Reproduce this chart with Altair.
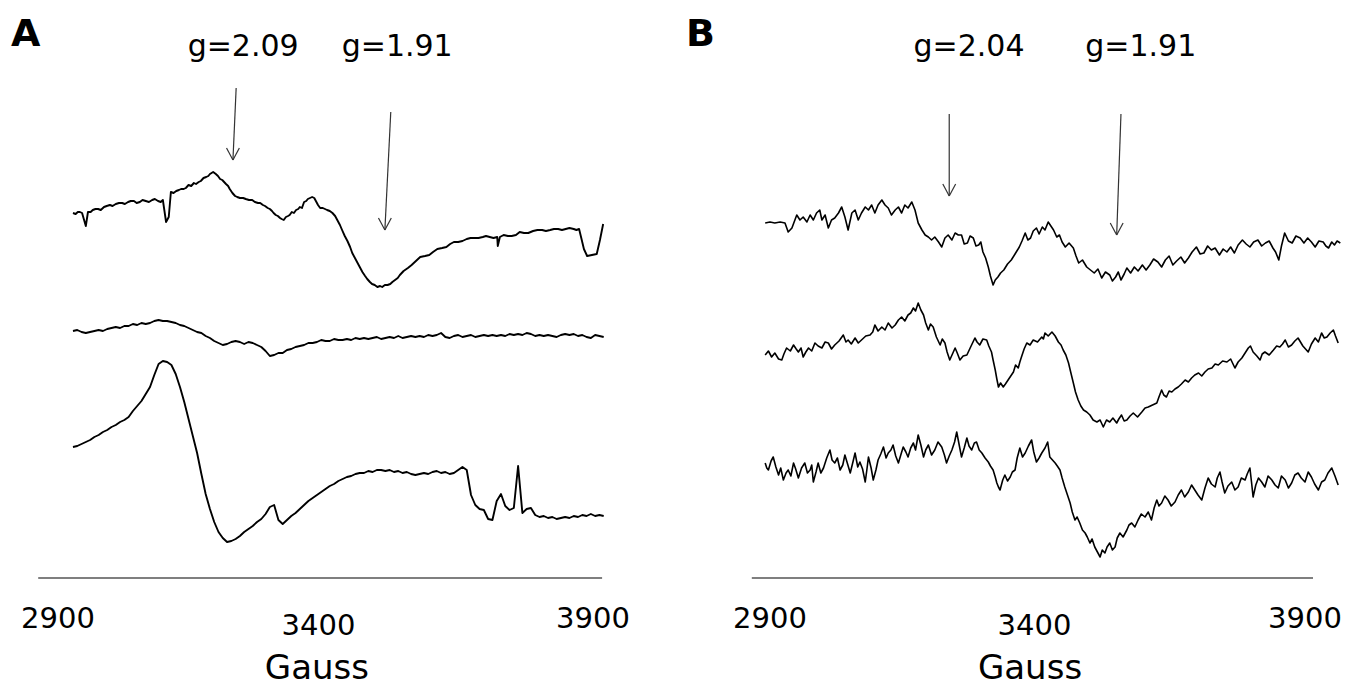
import altair as alt
import pandas as pd

# ---------------- Panel A : (field in Gauss, intensity in arbitrary units) ----------------
A1 = [(2928,17),(2933,16),(2937,18),(2941,18),(2945,17),(2952,4),(2956,18),(2961,18),(2965,20),(2970,21),
      (2975,21),(2980,20),(2986,23),(2991,24),(2997,25),(3002,24),(3008,26),(3014,27),(3020,27),(3025,26),
      (3031,28),(3036,29),(3042,29),(3047,27),(3053,28),(3058,30),(3064,29),(3070,28),(3076,30),(3081,31),
      (3087,29),(3092,28),(3096,30),(3102,8),(3107,13),(3111,38),(3116,37),(3121,39),(3126,40),(3130,41),
      (3135,41),(3139,42),(3144,45),(3149,44),(3154,47),(3158,46),(3163,48),(3167,49),(3172,52),(3177,53),
      (3181,54),(3184,56),(3190,58),(3195,56),(3199,54),(3203,51),(3207,50),(3214,46),(3218,44),(3221,41),
      (3226,37),(3231,34),(3235,33),(3240,32),(3246,32),(3251,31),(3257,30),(3263,30),(3268,28),(3274,27),
      (3278,27),(3283,25),(3287,24),(3292,22),(3296,21),(3300,19),(3303,17),(3307,15),(3311,14),(3315,12),
      (3318,11),(3322,10),(3326,13),(3330,14),(3333,15),(3337,18),(3341,17),(3345,20),(3349,21),(3352,23),
      (3356,22),(3360,28),(3364,29),(3367,31),(3371,32),(3375,33),(3379,32),(3382,29),(3386,25),(3390,22),
      (3395,22),(3399,21),(3403,20),(3408,19),(3413,17),(3418,14),(3422,10),(3427,5),(3431,0),(3436,-6),
      (3441,-11),(3446,-17),(3450,-23),(3455,-28),(3460,-33),(3464,-37),(3469,-42),(3474,-46),(3478,-49),(3483,-52),
      (3487,-54),(3492,-55),(3497,-57),(3502,-56),(3506,-57),(3511,-55),(3516,-55),(3521,-54),(3525,-52),(3530,-50),
      (3535,-48),(3539,-45),(3546,-41),(3554,-38),(3561,-35),(3569,-31),(3577,-27),(3586,-26),(3594,-25),(3601,-22),
      (3609,-19),(3618,-18),(3626,-17),(3633,-14),(3640,-12),(3648,-12),(3656,-11),(3664,-9),(3671,-8),(3679,-8),
      (3686,-8),(3694,-7),(3700,-6),(3707,-7),(3714,-8),(3721,-7),(3722,-16),(3726,-7),(3733,-5),(3741,-6),
      (3748,-6),(3756,-5),(3763,-2),(3771,-3),(3779,-3),(3788,-1),(3796,0),(3805,0),(3812,-1),(3820,0),
      (3827,1),(3835,1),(3842,0),(3849,1),(3856,2),(3864,1),(3869,0),(3874,1),(3879,-10),(3883,-19),
      (3889,-26),(3898,-25),(3907,-24),(3913,-10),(3919,6)]

# field sweep shared by the middle and bottom spectra of panel A (8 G steps)
A_SWEEP = list(range(2928, 3921, 8))
A2_INT = [7,8,6,5,6,7,8,7,9,10,11,10,12,12,14,13,15,14,15,17,
          18,17,17,16,15,13,12,10,8,6,5,2,0,-3,-5,-7,-6,-4,-3,-4,
          -6,-4,-5,-7,-9,-13,-18,-17,-15,-15,-12,-11,-9,-8,-7,-5,-5,-4,-2,-3,
          -3,-1,-2,-2,-1,-2,0,-1,0,-1,0,1,-1,0,1,0,2,0,1,2,
          1,2,1,3,2,3,5,1,0,2,3,1,2,3,1,2,3,2,3,2,
          3,2,4,3,4,3,5,4,2,3,2,3,2,1,3,4,3,4,2,3,
          1,0,3,2,1]
A3_INT = [43,44,46,48,50,53,55,58,60,63,65,68,70,73,79,84,89,96,103,115,
          126,129,128,125,116,103,88,71,54,37,16,-4,-19,-32,-42,-48,-52,-51,-49,-46,
          -42,-39,-36,-32,-29,-24,-17,-15,-30,-34,-30,-26,-23,-19,-15,-11,-8,-5,-2,1,
          4,6,9,11,13,14,16,17,17,19,18,20,20,19,20,18,19,17,18,16,
          15,16,17,16,18,19,17,18,16,17,20,23,20,-5,-15,-19,-20,-29,-30,-11,
          -4,-16,-20,-18,24,-23,-19,-18,-25,-27,-26,-28,-27,-29,-28,-27,-28,-26,-27,-25,
          -26,-24,-26,-25,-26]
A_OFFSETS = [-230, -338, -490]

# ---------------- Panel B ----------------
B1 = [(2891,17),(2900,18),(2909,17),(2919,18),(2928,17),(2934,8),(2941,12),(2950,25),(2956,20),(2962,23),
      (2969,18),(2975,25),(2981,20),(2987,27),(2993,30),(2997,20),(3003,25),(3009,12),(3015,20),(3021,22),
      (3028,27),(3034,33),(3040,23),(3046,10),(3053,27),(3059,30),(3065,20),(3071,27),(3078,33),(3084,30),
      (3090,35),(3096,27),(3102,35),(3109,40),(3115,35),(3121,32),(3127,25),(3134,30),(3140,33),(3146,27),
      (3152,35),(3158,32),(3165,38),(3171,30),(3177,17),(3184,10),(3190,5),(3196,3),(3202,0),(3208,3),
      (3215,-2),(3221,-7),(3227,2),(3233,5),(3240,0),(3246,7),(3252,5),(3258,5),(3263,-4),(3269,-3),
      (3274,4),(3280,2),(3285,-6),(3290,-5),(3294,-2),(3298,-12),(3303,-18),(3308,-27),(3312,-36),(3317,-45),
      (3321,-40),(3326,-37),(3331,-33),(3337,-30),(3344,-24),(3351,-20),(3358,-14),(3366,-7),(3371,-1),(3377,7),
      (3382,0),(3387,2),(3392,9),(3398,12),(3403,6),(3409,13),(3414,10),(3420,18),(3425,14),(3430,10),
      (3436,3),(3441,5),(3446,-2),(3452,-7),(3459,-3),(3467,-8),(3472,-16),(3477,-23),(3484,-20),(3492,-27),
      (3499,-30),(3506,-33),(3513,-29),(3520,-38),(3527,-32),(3535,-35),(3540,-41),(3546,-37),(3551,-32),(3556,-40),
      (3562,-34),(3567,-28),(3574,-33),(3581,-27),(3588,-31),(3596,-25),(3603,-30),(3610,-25),(3617,-19),(3625,-22),
      (3632,-27),(3639,-20),(3646,-16),(3653,-25),(3660,-21),(3668,-17),(3675,-23),(3682,-18),(3689,-12),(3697,-7),
      (3704,-14),(3711,-13),(3718,-6),(3725,-10),(3732,-8),(3740,-15),(3747,-9),(3754,-12),(3761,-7),(3768,-13),
      (3775,-5),(3783,0),(3790,-4),(3797,-7),(3804,-2),(3812,0),(3819,-6),(3826,-3),(3833,-1),(3840,-8),
      (3845,-12),(3851,-20),(3856,-6),(3862,7),(3869,-1),(3876,-3),(3883,4),(3891,2),(3898,-3),(3905,2),
      (3912,-2),(3919,-7),(3926,-1),(3934,-2),(3939,-6),(3944,-8),(3950,-2),(3955,-5),(3960,-1),(3966,-3)]

B2 = [(2891,-5),(2897,-1),(2903,-7),(2909,-3),(2916,-9),(2922,-10),(2926,-4),(2931,2),(2938,-1),(2944,5),
      (2949,1),(2953,-2),(2958,2),(2962,-7),(2967,-2),(2972,2),(2978,-1),(2984,7),(2990,4),(2997,2),
      (3003,8),(3009,7),(3015,1),(3021,5),(3029,9),(3037,15),(3042,8),(3046,10),(3052,6),(3059,12),
      (3065,7),(3071,10),(3079,14),(3087,15),(3092,18),(3096,25),(3102,19),(3109,23),(3115,20),(3121,27),
      (3128,22),(3134,25),(3140,30),(3146,33),(3152,29),(3158,35),(3163,37),(3168,42),(3172,39),(3177,47),
      (3182,40),(3187,35),(3191,27),(3196,20),(3200,26),(3205,23),(3211,13),(3218,5),(3222,11),(3227,7),
      (3231,-2),(3236,-10),(3241,-4),(3246,2),(3250,-3),(3255,-10),(3261,-6),(3268,-5),(3275,3),(3283,12),
      (3287,8),(3292,5),(3298,11),(3305,10),(3309,4),(3314,-2),(3317,-10),(3321,-20),(3324,-29),(3327,-37),
      (3331,-33),(3336,-37),(3340,-34),(3345,-30),(3350,-26),(3355,-22),(3359,-15),(3364,-18),(3367,-12),(3370,-7),
      (3375,1),(3380,7),(3386,5),(3392,10),(3400,8),(3408,13),(3411,11),(3414,17),(3420,14),(3427,18),
      (3433,14),(3439,8),(3444,5),(3448,0),(3453,-5),(3458,-13),(3462,-22),(3467,-33),(3471,-42),(3476,-50),
      (3481,-56),(3486,-60),(3492,-62),(3498,-65),(3504,-70),(3511,-72),(3517,-70),(3523,-77),(3529,-70),(3535,-72),
      (3541,-68),(3548,-73),(3552,-69),(3557,-65),(3562,-71),(3567,-70),(3573,-66),(3579,-63),(3587,-67),(3595,-62),
      (3601,-58),(3607,-57),(3615,-55),(3623,-53),(3627,-47),(3632,-40),(3636,-45),(3641,-47),(3646,-41),(3651,-42),
      (3657,-39),(3663,-37),(3669,-34),(3676,-30),(3682,-32),(3688,-28),(3694,-25),(3701,-23),(3707,-26),(3713,-22),
      (3719,-19),(3726,-18),(3732,-14),(3738,-15),(3746,-11),(3754,-12),(3761,-9),(3769,-18),(3775,-12),(3782,-8),
      (3788,-3),(3794,2),(3798,4),(3803,-2),(3810,-6),(3816,-10),(3820,-4),(3825,-2),(3833,-5),(3841,0),
      (3847,4),(3853,3),(3858,6),(3863,10),(3869,3),(3875,5),(3881,9),(3887,12),(3896,4),(3906,-2),
      (3912,6),(3919,12),(3925,8),(3931,17),(3936,12),(3941,13),(3947,17),(3953,20),(3957,14),(3962,7)]

B3 = [(2891,7),(2894,2),(2897,0),(2902,9),(2906,13),(2911,3),(2916,-5),(2920,2),(2925,-10),(2930,-3),
      (2934,0),(2939,-6),(2944,7),(2948,1),(2953,-8),(2959,2),(2965,7),(2970,-3),(2975,0),(2978,5),
      (2981,-12),(2986,-2),(2990,7),(2995,-3),(3000,2),(3006,12),(3012,20),(3016,10),(3021,7),(3026,12),
      (3031,0),(3036,5),(3040,15),(3045,6),(3050,-3),(3055,8),(3059,17),(3064,3),(3068,8),(3073,1),
      (3078,-12),(3081,0),(3084,13),(3089,2),(3093,-10),(3098,0),(3102,10),(3107,16),(3112,23),(3117,12),
      (3121,17),(3126,20),(3130,25),(3135,14),(3140,7),(3145,16),(3149,23),(3154,18),(3158,13),(3163,22),
      (3168,27),(3172,20),(3177,35),(3182,25),(3187,13),(3191,20),(3196,25),(3202,15),(3208,20),(3214,28),
      (3221,23),(3226,15),(3230,7),(3235,14),(3240,20),(3245,28),(3249,38),(3254,24),(3258,13),(3263,22),
      (3268,32),(3272,24),(3277,20),(3282,27),(3286,28),(3291,20),(3296,17),(3302,12),(3308,8),(3312,4),
      (3317,0),(3321,-7),(3324,-13),(3327,-17),(3330,-20),(3335,-10),(3339,-5),(3344,-11),(3349,-7),(3353,-2),
      (3358,0),(3362,12),(3367,22),(3372,13),(3377,17),(3383,24),(3389,30),(3393,18),(3398,8),(3403,12),
      (3408,17),(3414,22),(3419,28),(3423,13),(3428,10),(3433,7),(3437,4),(3442,0),(3446,-8),(3451,-17),
      (3456,-25),(3461,-33),(3465,-42),(3470,-50),(3474,-47),(3479,-53),(3484,-60),(3489,-63),(3493,-67),(3498,-73),
      (3502,-69),(3507,-77),(3512,-82),(3517,-87),(3521,-80),(3526,-83),(3530,-77),(3535,-73),(3540,-80),(3545,-77),
      (3549,-68),(3554,-63),(3560,-67),(3567,-60),(3571,-55),(3576,-53),(3582,-57),(3588,-50),(3594,-44),(3601,-47),
      (3607,-42),(3613,-50),(3618,-38),(3623,-30),(3627,-36),(3632,-33),(3638,-26),(3644,-30),(3650,-36),(3657,-32),
      (3663,-25),(3669,-20),(3675,-27),(3682,-22),(3688,-15),(3694,-20),(3700,-25),(3707,-30),(3713,-18),(3719,-8),
      (3725,-14),(3732,-17),(3736,-8),(3741,-2),(3745,-12),(3750,-23),(3756,-16),(3763,-12),(3769,-20),(3775,-17),
      (3781,-8),(3788,-10),(3792,-4),(3797,2),(3800,-12),(3803,-27),(3808,-15),(3813,-8),(3819,-12),(3825,-17),
      (3831,-6),(3838,-10),(3844,-15),(3850,-18),(3856,-6),(3863,-10),(3869,-18),(3875,-13),(3881,-5),(3887,-3),
      (3893,-8),(3900,-12),(3906,-2),(3912,-7),(3918,-14),(3925,-20),(3931,-12),(3937,-10),(3943,-3),(3950,2),
      (3956,-6),(3962,-15)]
B_OFFSETS = [-240, -350, -470]

# ---------------- annotations ----------------
TICKS = [2900, 3400, 3900]
A_G_LABELS = ["g=2.09", "g=1.91"]
A_G_LABEL_POS = [3246, 3534]
A_ARROWS = [(3233, -88, 3227, -160), (3522, -112, 3511, -230)]   # (field top, y top, field tip, y tip)
B_G_LABELS = ["g=2.04", "g=1.91"]
B_G_LABEL_POS = [3272, 3593]
B_ARROWS = [(3235, -114, 3235, -196), (3556, -114, 3548, -235)]
A_AXIS = (2863, 3917)
B_AXIS = (2866, 3915)

FONT = "DejaVu Sans"
H = 672


def spectra(traces, offsets):
    rows = []
    for t, (pairs, off) in enumerate(zip(traces, offsets)):
        for i, (g, val) in enumerate(pairs):
            rows.append({"gauss": g, "y": val + off, "trace": t, "i": i})
    return pd.DataFrame(rows)


def panel(letter, letter_pos, traces, offsets, glabels, gpos, arrows, axis_span,
          mid_dx, gauss_pos, domain, width, lw):
    xs = alt.Scale(domain=domain, nice=False, zero=False)
    ys = alt.Scale(domain=[-H - 8, -8], nice=False, zero=False)
    X = lambda f: alt.X(f, type="quantitative", scale=xs, axis=None)
    Y = lambda f: alt.Y(f, type="quantitative", scale=ys, axis=None)

    lines = alt.Chart(spectra(traces, offsets)).mark_line(
        color="black", strokeWidth=lw, strokeJoin="round").encode(
        x=X("gauss"), y=Y("y"), detail="trace:N", order="i:Q")

    seg_rows = []
    for (g0, y0, g1, y1) in arrows:
        seg_rows.append({"x": g0, "y": y0, "x2": g1, "y2": y1})
        seg_rows.append({"x": g1 - 12, "y": y1 + 12, "x2": g1, "y2": y1})
        seg_rows.append({"x": g1 + 12, "y": y1 + 12, "x2": g1, "y2": y1})
    arrows_ch = alt.Chart(pd.DataFrame(seg_rows)).mark_rule(color="#333333", strokeWidth=1.2).encode(
        x=X("x"), y=Y("y"), x2="x2:Q", y2="y2:Q")

    axis_line = alt.Chart(pd.DataFrame({"x": [axis_span[0]], "x2": [axis_span[1]], "y": [-578]})).mark_rule(
        color="#555555", strokeWidth=1.6).encode(x=X("x"), x2="x2:Q", y=Y("y"))

    outer_ticks = alt.Chart(pd.DataFrame({"x": [TICKS[0], TICKS[2]], "y": [-628, -628],
                                          "t": [str(TICKS[0]), str(TICKS[2])]})).mark_text(
        font=FONT, fontSize=29, align="center", baseline="alphabetic", color="black").encode(
        x=X("x"), y=Y("y"), text="t:N")
    mid_tick = alt.Chart(pd.DataFrame({"x": [TICKS[1]], "y": [-635], "t": [str(TICKS[1])]})).mark_text(
        font=FONT, fontSize=29, align="center", baseline="alphabetic", color="black", dx=mid_dx).encode(
        x=X("x"), y=Y("y"), text="t:N")

    gtxt = alt.Chart(pd.DataFrame({"x": gpos, "y": [-56, -56], "t": glabels})).mark_text(
        font=FONT, fontSize=30, align="center", baseline="alphabetic", color="black").encode(
        x=X("x"), y=Y("y"), text="t:N")

    gauss = alt.Chart(pd.DataFrame({"x": [gauss_pos], "y": [-679], "t": ["Gauss"]})).mark_text(
        font=FONT, fontSize=34, align="center", baseline="alphabetic", color="black").encode(
        x=X("x"), y=Y("y"), text="t:N")

    let = alt.Chart(pd.DataFrame({"x": [letter_pos], "y": [-46], "t": [letter]})).mark_text(
        font=FONT, fontSize=38, fontWeight="bold", align="left", baseline="alphabetic", color="black").encode(
        x=X("x"), y=Y("y"), text="t:N")

    return alt.layer(lines, arrows_ch, axis_line, outer_ticks, mid_tick, gtxt, gauss, let).properties(
        width=width, height=H)


A_TRACES = [A1, list(zip(A_SWEEP, A2_INT)), list(zip(A_SWEEP, A3_INT))]
B_TRACES = [B1, B2, B3]

panelA = panel("A", 2812, A_TRACES, A_OFFSETS, A_G_LABELS, A_G_LABEL_POS, A_ARROWS, A_AXIS,
               -7, 3384, [2806.54, 4070.1], 676, 1.9)
panelB = panel("B", 2743, B_TRACES, B_OFFSETS, B_G_LABELS, B_G_LABEL_POS, B_ARROWS, B_AXIS,
               -3, 3386, [2739.25, 3984.1], 666, 1.6)

chart = alt.hconcat(panelA, panelB, spacing=0).properties(padding=0).configure_view(strokeWidth=0)
chart.save("out.html", embed_options={"renderer": "svg", "actions": False})
